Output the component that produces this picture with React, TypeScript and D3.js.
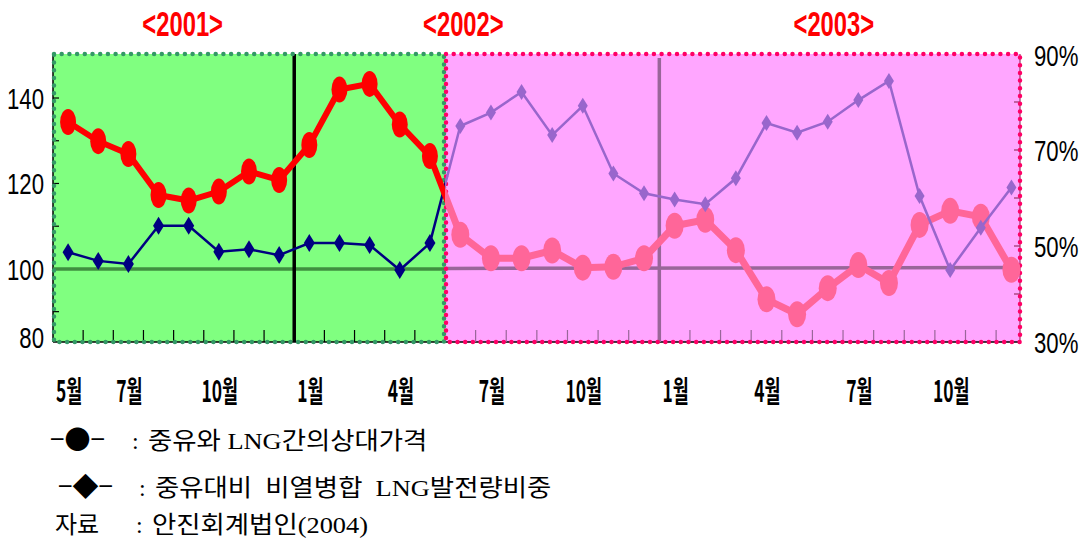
import React from "react";
import * as d3 from "d3";

// ---- data ----
// Relative price of heavy oil vs LNG (left axis), May 2001 – May 2002
const relPrice2001 = [134.4, 129.9, 126.9, 117.3, 116.0, 118.1, 122.8, 120.8, 129.0, 142.0, 143.3, 133.8, 126.4];
// Jun 2002 – Dec 2003
const relPrice2002 = [108.0, 102.5, 102.5, 104.3, 100.3, 100.5, 102.5, 110.1, 111.5, 104.4, 92.9, 89.4, 95.5, 100.9, 96.7, 110.3, 113.6, 112.2, 99.8];
// LNG generation share (%) (right axis)
const share2001 = [48.7, 46.9, 46.25, 54.2, 54.2, 48.8, 49.3, 48.1, 50.6, 50.6, 50.2, 45.0, 50.6];
const share2002 = [75.0, 77.8, 82.1, 73.1, 79.2, 65.1, 61.0, 59.7, 58.7, 64.1, 75.6, 73.6, 75.9, 80.4, 84.4, 60.4, 45.0, 53.8, 62.2];

const xTickLabels = ["5월", "7월", "10월", "1월", "4월", "7월", "10월", "1월", "4월", "7월", "10월"];
const xTickIndex = [0, 2, 5, 8, 11, 14, 17, 20, 23, 26, 29];
const leftTicks = [80, 100, 120, 140];
const rightTicks = [90, 70, 50, 30];
const yearLabels = ["<2001>", "<2002>", "<2003>"];
const yearLabelIndex = [3.8, 13.1, 25.2];
const yearBoundaries = [7.5, 19.5];
const legendRows = [
  { mark: "−●−", text: "중유와 LNG간의상대가격" },
  { mark: "−◆−", text: "중유대비  비열병합  LNG발전량비중" },
  { mark: "자료", text: "안진회계법인(2004)" },
];

const W = 1083;
const H = 541;
const top = 54;
const bottom = 342;
const left = 53;
const right = 1020;

export default function App() {
  const relPrice = [...relPrice2001, ...relPrice2002];
  const share = [...share2001, ...share2002];
  const n = relPrice.length;
  const split = relPrice2001.length - 0.5;

  const x = d3.scaleLinear().domain([-0.5, split, n - 1 + 0.28]).range([left, 445, right]);
  const yL = d3.scaleLinear().domain([82.9, 150.3]).range([bottom, top]).clamp(true);
  const yR = d3.scaleLinear().domain([30, 90]).range([bottom, top]);
  const xs = d3.range(n);
  const xb = x(split);

  const priceLine = d3.line<number>().x((_, i) => x(i)).y((d) => yL(d));
  const shareLine = d3.line<number>().x((_, i) => x(i)).y((d) => yR(d));

  const kr = "'Noto Sans CJK KR', sans-serif";
  const serif = "'Liberation Serif', 'DejaVu Serif', 'Noto Sans CJK KR', serif";

  const dot = { strokeDasharray: "0 7.7", strokeLinecap: "round" as const, strokeWidth: 4.5 };

  const halfTicks = d3.range(n - 1).map((i) => i + 0.5).filter((v) => v !== split);

  const diamond = (cx: number, cy: number, w: number, h: number) =>
    `M${cx},${cy - h / 2}L${cx + w / 2},${cy}L${cx},${cy + h / 2}L${cx - w / 2},${cy}Z`;

  return (
    <svg width={W} height={H} style={{ position: "absolute", left: 0, top: 0, background: "#fff" }}>
      <defs>
        <clipPath id="clipA">
          <rect x={left} y={0} width={xb - left} height={H} />
        </clipPath>
        <clipPath id="clipB">
          <rect x={xb} y={0} width={W - xb} height={H} />
        </clipPath>
      </defs>

      {/* year labels */}
      {yearLabels.map((t, k) => (
        <g key={t} transform={`translate(${x(yearLabelIndex[k])},36) scale(0.68,1)`}>
          <text textAnchor="middle" fontFamily="'Liberation Sans', Arial, sans-serif" fontWeight="bold" fontSize={35} fill="#ff0000">
            {t}
          </text>
        </g>
      ))}

      {/* region backgrounds */}
      <rect x={left} y={top} width={xb - left} height={bottom - top} fill="#80ff80" />
      <rect x={xb} y={top} width={right - xb} height={bottom - top} fill="#ffa6ff" />

      {/* axes */}
      <line x1={left} x2={left} y1={top} y2={bottom} stroke="#000" strokeWidth={1.5} />
      <line x1={left} x2={right} y1={bottom} y2={bottom} stroke="#000" strokeWidth={1.5} />
      <line x1={right} x2={right} y1={top} y2={bottom} stroke="#993366" strokeWidth={1.2} />
      {d3.range(90, 150, 10).map((v) => (
        <line key={"lt" + v} x1={left} x2={left + 6} y1={yL(v)} y2={yL(v)} stroke="#000" strokeWidth={1.2} />
      ))}
      {d3.range(40, 90, 10).map((v) => (
        <line key={"rt" + v} x1={right} x2={right - 6} y1={yR(v)} y2={yR(v)} stroke="#993366" strokeWidth={1.2} />
      ))}
      {halfTicks.map((v) => (
        <line
          key={"bt" + v}
          x1={x(v)}
          x2={x(v)}
          y1={bottom}
          y2={bottom - 12}
          stroke={v < split ? "#000" : "#996699"}
          strokeWidth={1.2}
        />
      ))}

      {/* 100 reference line */}
      <line x1={left} x2={xb} y1={yL(100)} y2={yL(100)} stroke="#3f8f3f" strokeWidth={3.5} />
      <line x1={xb} x2={right} y1={yL(100) - 0.5} y2={yL(100) - 1.5} stroke="#996699" strokeWidth={3.5} />

      {/* year boundaries */}
      <line x1={x(yearBoundaries[0])} x2={x(yearBoundaries[0])} y1={top} y2={bottom} stroke="#000" strokeWidth={3.5} />
      <line x1={x(yearBoundaries[1])} x2={x(yearBoundaries[1])} y1={top + 4} y2={bottom} stroke="#996699" strokeWidth={3.5} />

      {/* dotted region borders */}
      <g fill="none">
        <rect x={left + 1} y={top} width={xb - left - 2} height={bottom - top} stroke="#339966" style={dot} />
        <rect x={xb + 1} y={top} width={right - xb - 1} height={bottom - top} stroke="#ff0066" style={dot} />
      </g>

      {/* period A series */}
      <g clipPath="url(#clipA)">
        <path d={shareLine(share) || ""} fill="none" stroke="#000080" strokeWidth={2.5} />
        <path d={priceLine(relPrice) || ""} fill="none" stroke="#ff0000" strokeWidth={6} />
        {xs.map((i) => (
          <path key={"da" + i} d={diamond(x(i), yR(share[i]), 11, 18)} fill="#000080" />
        ))}
        {xs.map((i) => (
          <ellipse key={"ca" + i} cx={x(i)} cy={yL(relPrice[i])} rx={8} ry={13} fill="#ff0000" />
        ))}
      </g>

      {/* period B series */}
      <g clipPath="url(#clipB)">
        <path d={priceLine(relPrice) || ""} fill="none" stroke="#ff6699" strokeWidth={7} />
        {xs.map((i) => (
          <ellipse key={"cb" + i} cx={x(i)} cy={yL(relPrice[i])} rx={9} ry={13} fill="#ff6699" />
        ))}
        <path d={shareLine(share) || ""} fill="none" stroke="#9966cc" strokeWidth={2.5} />
        {xs.map((i) => (
          <path key={"db" + i} d={diamond(x(i), yR(share[i]), 10, 16)} fill="#9966cc" />
        ))}
      </g>

      {/* left tick labels */}
      {leftTicks.map((v) => (
        <g key={"ll" + v} transform={`translate(44,${yL(v) + (v === 80 ? 6 : 11)}) scale(0.74,1)`}>
          <text textAnchor="end" fontFamily="'Liberation Sans', Arial, sans-serif" fontSize={30} fill="#000">
            {v}
          </text>
        </g>
      ))}
      {/* right tick labels */}
      {rightTicks.map((v) => (
        <g key={"rl" + v} transform={`translate(1034,${yR(v) + (v === 90 ? 12 : 11)}) scale(0.74,1)`}>
          <text textAnchor="start" fontFamily="'Liberation Sans', Arial, sans-serif" fontSize={30} fill="#000">
            {v}%
          </text>
        </g>
      ))}

      {/* x tick labels */}
      {xTickLabels.map((t, k) => (
        <g key={"xl" + k} transform={`translate(${x(xTickIndex[k]) + 1},402) scale(0.58,1)`}>
          <text textAnchor="middle" fontFamily={kr} fontWeight="bold" fontSize={30} fill="#000">
            {t}
          </text>
        </g>
      ))}

      {/* legend */}
      {legendRows.map((r, k) => {
        const y = [449, 496, 533][k];
        const mx = [50, 58, 55][k];
        const cx = [132, 139, 136][k];
        const tx = [148, 155, 152][k];
        return (
          <g key={"lg" + k} fill="#000">
            <text x={mx} y={y} fontFamily={k === 2 ? serif : kr} fontSize={k === 2 ? 24 : 26}>
              {r.mark}
            </text>
            <text x={cx} y={y} fontFamily={serif} fontSize={24}>:</text>
            <g transform={`translate(${tx},${y}) scale(1.1,1)`}>
              <text x={0} y={0} fontFamily={serif} fontSize={24} style={{ whiteSpace: "pre" }}>
                {r.text}
              </text>
            </g>
          </g>
        );
      })}
    </svg>
  );
}
